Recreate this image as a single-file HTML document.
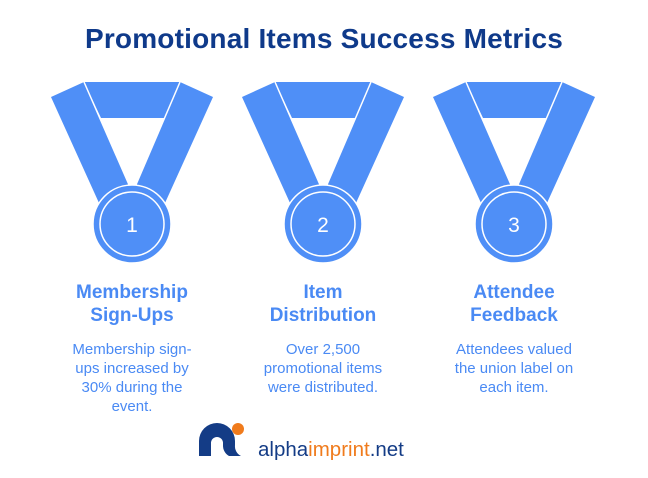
<!DOCTYPE html>
<html><head><style>
body{margin:0;width:648px;height:478px;background:#fff;position:relative;overflow:hidden;font-family:"Liberation Sans",sans-serif}
.t{position:absolute;left:0;width:648px;top:23px;text-align:center;font-weight:bold;font-size:28px;color:#0f3a8a;letter-spacing:0.2px}
.col{position:absolute;width:160px;text-align:center;color:#4a8af4}
.h{font-weight:bold;font-size:19px;line-height:23px;margin-top:0}
.b{font-size:15px;line-height:19px;margin-top:13px}
</style></head><body>
<div class="t">Promotional Items Success Metrics</div>
<svg width="648" height="478" style="position:absolute;left:0;top:0">
<defs><g id="m" fill="#4f8ff7">
<polygon points="-48,-142 48,-142 33,-106 -31,-106"/>
<polygon points="-81,-127 -48,-142 -2,-37 -33,-21"/>
<polygon points="81,-127 48,-142 3,-37 33,-21"/>
<line x1="-48" y1="-142" x2="-2" y2="-37" stroke="#fff" stroke-width="1.5"/>
<line x1="48" y1="-142" x2="3" y2="-37" stroke="#fff" stroke-width="1.5"/>
<circle r="39" stroke="#fff" stroke-width="1.5"/>
<circle r="32" fill="none" stroke="#fff" stroke-width="1.5"/>
</g></defs>
<use href="#m" x="132" y="224"/>
<use href="#m" x="323" y="224"/>
<use href="#m" x="514" y="224"/>
<g fill="#fff" font-size="21" text-anchor="middle" font-family="Liberation Sans,sans-serif">
<text x="132" y="232">1</text><text x="323" y="232">2</text><text x="514" y="232">3</text></g>
<g transform="translate(199,423)">
<path d="M0,33 L0,18 A18,18 0 0 1 36,18 L36,22 A11,11 0 0 0 42,33 L30,33 A12,12 0 0 1 24,22 L24,20 A6,6 0 0 0 12,20 L12,33 Z" fill="#143c86"/>
<circle cx="39" cy="6" r="6" fill="#f07b1c"/>
</g>
<text x="258" y="456" font-size="20.5" font-family="Liberation Sans,sans-serif" fill="#143c86">alpha<tspan fill="#f07b1c">imprint</tspan>.net</text>
</svg>
<div class="col" style="left:52px;top:281px"><div class="h">Membership<br>Sign-Ups</div><div class="b">Membership sign-<br>ups increased by<br>30% during the<br>event.</div></div>
<div class="col" style="left:243px;top:281px"><div class="h">Item<br>Distribution</div><div class="b">Over 2,500<br>promotional items<br>were distributed.</div></div>
<div class="col" style="left:434px;top:281px"><div class="h">Attendee<br>Feedback</div><div class="b">Attendees valued<br>the union label on<br>each item.</div></div>
</body></html>
